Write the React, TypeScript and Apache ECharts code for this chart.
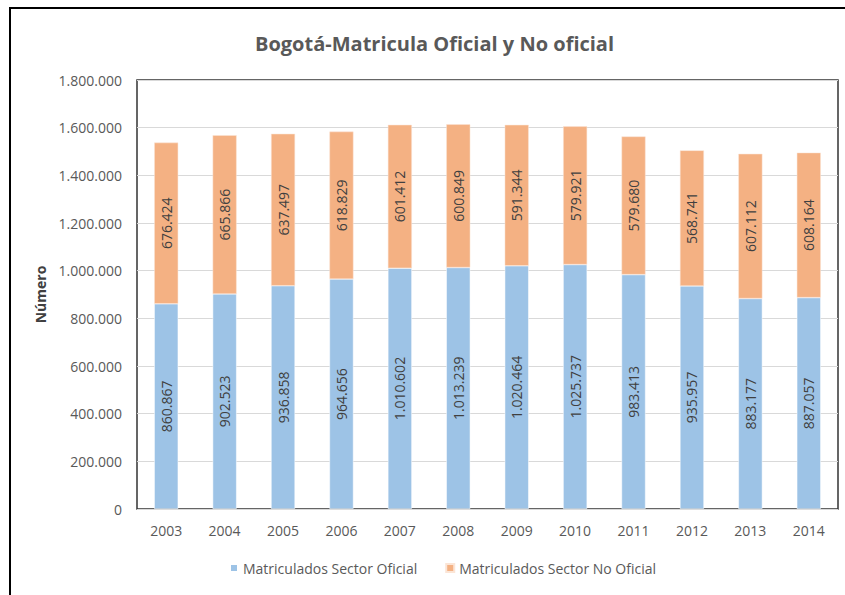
import React, { useEffect, useRef } from "react";
import * as echarts from "echarts";

const years = ["2003","2004","2005","2006","2007","2008","2009","2010","2011","2012","2013","2014"];
const oficial = [860867, 902523, 936858, 964656, 1010602, 1013239, 1020464, 1025737, 983413, 935957, 883177, 887057];
const noOficial = [676424, 665866, 637497, 618829, 601412, 600849, 591344, 579921, 579680, 568741, 607112, 608164];
const seriesNames = ["Matriculados Sector Oficial", "Matriculados Sector No Oficial"];

const fmt = (v: number) => String(Math.round(v)).replace(/\B(?=(\d{3})+(?!\d))/g, ".");

export default function App() {
  const ref = useRef<HTMLDivElement>(null);
  useEffect(() => {
    const chart = echarts.init(ref.current!, null, { renderer: "svg" });
    const font = "'Open Sans', 'Noto Sans', sans-serif";
    const labelCommon = {
      show: true,
      position: "inside" as const,
      rotate: 90,
      color: "#404040",
      fontSize: 14,
      fontFamily: font,
      formatter: (p: any) => fmt(p.value),
    };
    chart.setOption({
      animation: false,
      backgroundColor: "#ffffff",
      title: {
        text: "Bogotá-Matricula Oficial y No oficial",
        left: 250,
        top: 28,
        textStyle: { color: "#595959", fontSize: 20, fontWeight: "bold", fontFamily: font },
      },
      graphic: [
        {
          type: "rect",
          shape: { x: 10, y: 8, width: 900, height: 700 },
          style: { fill: "none", stroke: "#000000", lineWidth: 2 },
          silent: true,
        },
      ],
      legend: {
        bottom: 15,
        left: 224,
        itemWidth: 8,
        itemHeight: 8,
        itemGap: 28,
        icon: "rect",
        textStyle: { color: "#595959", fontSize: 14, fontFamily: font },
        data: seriesNames,
      },
      grid: {
        left: 137,
        top: 80,
        right: 7,
        bottom: 86,
        show: true,
        borderColor: "#333333",
        borderWidth: 1.5,
      },
      xAxis: {
        type: "category",
        data: years,
        axisLine: { show: false },
        axisTick: { show: false },
        axisLabel: { color: "#595959", fontSize: 14, fontFamily: font, margin: 14 },
      },
      yAxis: {
        type: "value",
        min: 0,
        max: 1800000,
        interval: 200000,
        name: "Número",
        nameLocation: "middle",
        nameGap: 81,
        nameTextStyle: { color: "#404040", fontSize: 14, fontWeight: "bold", fontFamily: font },
        axisLine: { show: false },
        axisTick: { show: false },
        splitLine: { lineStyle: { color: "#D9D9D9", width: 1 } },
        axisLabel: { color: "#595959", fontSize: 14, fontFamily: font, margin: 15, formatter: (v: number) => fmt(v) },
      },
      series: [
        {
          name: seriesNames[0],
          type: "bar",
          stack: "total",
          data: oficial,
          barWidth: 24,
          itemStyle: { color: "#9DC3E6", borderColor: "#ffffff", borderWidth: 0.5 },
          label: labelCommon,
        },
        {
          name: seriesNames[1],
          type: "bar",
          stack: "total",
          data: noOficial,
          barWidth: 24,
          itemStyle: { color: "#F4B183", borderColor: "#FBE5D6", borderWidth: 0.5 },
          label: labelCommon,
        },
      ],
    });
    return () => chart.dispose();
  }, []);
  return <div ref={ref} style={{ position: "absolute", left: 0, top: 0, width: 845, height: 595 }} />;
}
